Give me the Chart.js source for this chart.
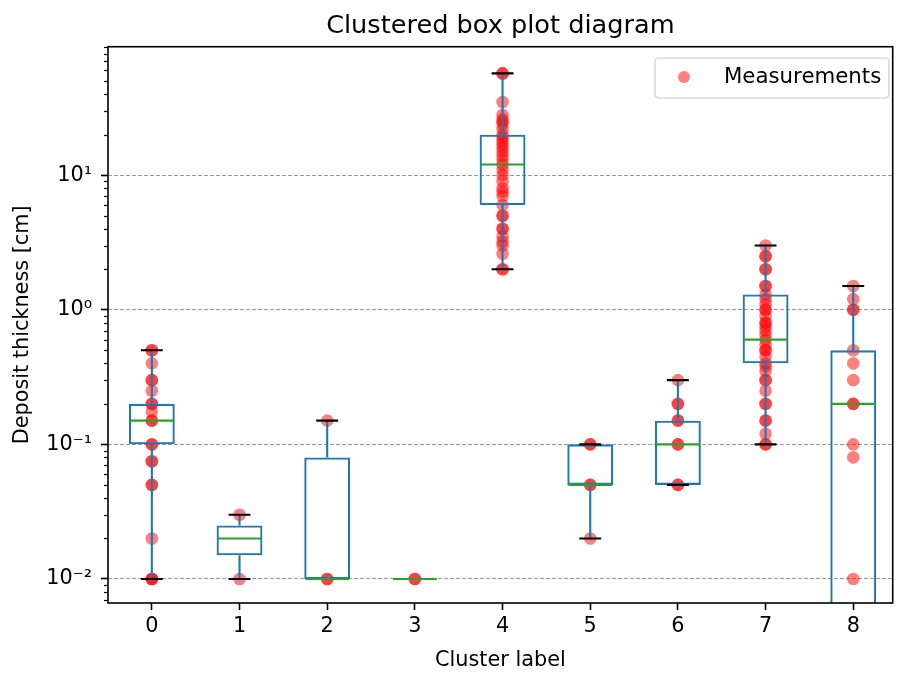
<!DOCTYPE html>
<html>
<head>
<meta charset="utf-8">
<script src="https://cdn.jsdelivr.net/npm/chart.js@4.4.0/dist/chart.umd.min.js"></script>
<style>
  html, body { margin: 0; padding: 0; background: #ffffff; }
</style>
</head>
<body>
<canvas id="box_chart" width="899" height="675"></canvas>
<script>
// cluster labels on the x axis
const clusters = ['0', '1', '2', '3', '4', '5', '6', '7', '8'];

// box statistics per cluster
const box_q1 = [0.1, 0.015, 0.01, 0.01, 6, 0.05, 0.05, 0.4, 0.001];
const box_median = [0.15, 0.02, 0.01, 0.01, 12, 0.05, 0.1, 0.6, 0.2];
const box_q3 = [0.2, 0.025, 0.08, 0.01, 20, 0.1, 0.15, 1.3, 0.5];
const whisker_low = [0.01, 0.01, 0.01, 0.01, 2, 0.02, 0.05, 0.1, 0.001];
const whisker_high = [0.5, 0.03, 0.15, 0.01, 57, 0.1, 0.3, 3, 1.5];

// measurements per cluster
const cluster0 = [0.5, 0.5, 0.4, 0.3, 0.3, 0.25, 0.2, 0.2, 0.175, 0.15, 0.15, 0.1, 0.1, 0.075, 0.075, 0.05, 0.05, 0.02, 0.01, 0.01, 0.01];
const cluster1 = [0.03, 0.01];
const cluster2 = [0.15, 0.01, 0.01];
const cluster3 = [0.01, 0.01];
const cluster4 = [57, 57, 35, 28, 26, 25, 24, 22, 20, 19, 18, 17, 16, 15, 14, 13, 12, 11, 10, 9, 8, 7.5, 7, 6, 5, 5, 4, 4, 3.5, 3.2, 3, 2.6, 2, 2];
const cluster5 = [0.1, 0.1, 0.05, 0.05, 0.02];
const cluster6 = [0.3, 0.2, 0.2, 0.15, 0.15, 0.1, 0.1, 0.05, 0.05];
const cluster7 = [3, 2.5, 2.5, 2, 2, 1.5, 1.5, 1.3, 1.2, 1.1, 1, 1, 0.9, 0.8, 0.8, 0.75, 0.7, 0.65, 0.6, 0.55, 0.5, 0.5, 0.45, 0.4, 0.38, 0.35, 0.3, 0.3, 0.25, 0.2, 0.2, 0.15, 0.15, 0.12, 0.1, 0.1];
const cluster8 = [1.5, 1.2, 1.0, 1.0, 0.5, 0.4, 0.3, 0.2, 0.2, 0.1, 0.08, 0.01];
const measurements = [cluster0, cluster1, cluster2, cluster3, cluster4, cluster5, cluster6, cluster7, cluster8];

// axis ticks
const y_tick_values = [0.01, 0.1, 1, 10];
const y_tick_labels = ['10\u207B\u00B2', '10\u207B\u00B9', '10\u2070', '10\u00B9'];

const blue = '#1f77b4';
const green = '#2ca02c';
const font_family = "'DejaVu Sans', sans-serif";

let scatter_points = [];
measurements.forEach((values, i) => {
    values.forEach(v => scatter_points.push({x: i, y: v}));
});

const box_lines = {
    id: 'box_lines',
    afterDatasetsDraw(chart) {
        const ctx = chart.ctx;
        const xs = chart.scales.x;
        const ys = chart.scales.y;
        const area = chart.chartArea;
        const cap_half = xs.getPixelForValue(0.125) - xs.getPixelForValue(0);
        const box_half = xs.getPixelForValue(0.25) - xs.getPixelForValue(0);

        const line = (x1, y1, x2, y2) => {
            ctx.beginPath();
            ctx.moveTo(x1, y1);
            ctx.lineTo(x2, y2);
            ctx.stroke();
        };

        ctx.save();
        ctx.beginPath();
        ctx.rect(area.left, area.top, area.right - area.left, area.bottom - area.top);
        ctx.clip();
        ctx.lineWidth = 2.1;

        clusters.forEach((c, i) => {
            const cx = xs.getPixelForValue(i);
            ctx.strokeStyle = blue;
            line(cx, ys.getPixelForValue(whisker_low[i]), cx, ys.getPixelForValue(box_q1[i]));
            line(cx, ys.getPixelForValue(box_q3[i]), cx, ys.getPixelForValue(whisker_high[i]));
            ctx.strokeStyle = '#000000';
            line(cx - cap_half, ys.getPixelForValue(whisker_low[i]), cx + cap_half, ys.getPixelForValue(whisker_low[i]));
            line(cx - cap_half, ys.getPixelForValue(whisker_high[i]), cx + cap_half, ys.getPixelForValue(whisker_high[i]));
            ctx.strokeStyle = green;
            line(cx - box_half, ys.getPixelForValue(box_median[i]), cx + box_half, ys.getPixelForValue(box_median[i]));
        });
        ctx.restore();
    },
    afterDraw(chart) {
        const ctx = chart.ctx;
        const ys = chart.scales.y;
        const area = chart.chartArea;

        // minor ticks on the log axis
        ctx.save();
        ctx.strokeStyle = '#000000';
        ctx.lineWidth = 1.2;
        for (let k = -3; k <= 1; k++) {
            for (let m = 2; m <= 9; m++) {
                const v = m * Math.pow(10, k);
                if (v < ys.min || v > ys.max) continue;
                const py = Math.round(ys.getPixelForValue(v)) + 0.5;
                ctx.beginPath();
                ctx.moveTo(area.left - 4, py);
                ctx.lineTo(area.left, py);
                ctx.stroke();
            }
        }

        // frame
        ctx.lineWidth = 1.6;
        ctx.strokeRect(area.left, area.top, area.right - area.left, area.bottom - area.top);

        // legend
        const lx = 655, ly = 58, lw = 234, lh = 40, r = 4;
        ctx.beginPath();
        ctx.moveTo(lx + r, ly);
        ctx.arcTo(lx + lw, ly, lx + lw, ly + lh, r);
        ctx.arcTo(lx + lw, ly + lh, lx, ly + lh, r);
        ctx.arcTo(lx, ly + lh, lx, ly, r);
        ctx.arcTo(lx, ly, lx + lw, ly, r);
        ctx.closePath();
        ctx.fillStyle = 'rgba(255,255,255,0.8)';
        ctx.fill();
        ctx.strokeStyle = '#cccccc';
        ctx.lineWidth = 1.2;
        ctx.stroke();

        ctx.beginPath();
        ctx.arc(684, 77, 6, 0, Math.PI * 2);
        ctx.fillStyle = 'rgba(255,0,0,0.5)';
        ctx.fill();

        ctx.fillStyle = '#000000';
        ctx.font = "21.3px " + font_family;
        ctx.textBaseline = 'middle';
        ctx.textAlign = 'left';
        ctx.fillText('Measurements', 724, 77);
        ctx.restore();
    }
};

new Chart(document.getElementById('box_chart'), {
    type: 'bar',
    data: {
        datasets: [{
            type: 'scatter',
            label: 'Measurements',
            data: scatter_points,
            pointRadius: 6.3,
            pointHoverRadius: 6.3,
            pointBorderWidth: 0,
            backgroundColor: 'rgba(255,0,0,0.5)',
            borderColor: 'rgba(255,0,0,0.5)',
            order: 2
        }, {
            type: 'bar',
            label: 'box',
            data: clusters.map((c, i) => ({x: i, y: [box_q1[i], box_q3[i]]})),
            backgroundColor: 'rgba(0,0,0,0)',
            borderColor: blue,
            borderWidth: 2.1,
            borderSkipped: false,
            barPercentage: 0.523,
            categoryPercentage: 1.0,
            clip: 0,
            order: 1
        }]
    },
    options: {
        responsive: false,
        animation: false,
        layout: { padding: { left: 0, right: 2, top: 0, bottom: 0 } },
        plugins: {
            legend: { display: false },
            tooltip: { enabled: false },
            title: {
                display: true,
                text: 'Clustered box plot diagram',
                fullSize: false,
                color: '#000000',
                font: { family: font_family, size: 25.6, weight: 'normal' },
                padding: { top: 11, bottom: 5 }
            }
        },
        scales: {
            x: {
                type: 'linear',
                min: -0.5,
                max: 8.45,
                offset: false,
                afterBuildTicks: scale => {
                    scale.ticks = clusters.map((c, i) => ({value: i}));
                },
                afterFit: scale => { scale.height = 72; },
                ticks: {
                    color: '#000000',
                    font: { family: font_family, size: 20.8 },
                    padding: 4,
                    maxRotation: 0,
                    callback: (v) => clusters[v]
                },
                grid: {
                    offset: false,
                    drawOnChartArea: false,
                    tickLength: 7,
                    tickWidth: 1.6,
                    tickColor: '#000000'
                },
                border: { display: false },
                title: {
                    display: true,
                    text: 'Cluster label',
                    color: '#000000',
                    font: { family: font_family, size: 20.8 },
                    padding: { top: 0, bottom: 2 }
                }
            },
            y: {
                type: 'logarithmic',
                min: 0.00663,
                max: 90,
                afterBuildTicks: scale => {
                    scale.ticks = y_tick_values.map(v => ({value: v}));
                },
                afterFit: scale => { scale.width = 108; },
                ticks: {
                    color: '#000000',
                    font: { family: font_family, size: 20.8 },
                    padding: 9,
                    callback: (v) => y_tick_labels[y_tick_values.indexOf(v)]
                },
                grid: {
                    color: 'rgba(128,128,128,0.8)',
                    lineWidth: 1,
                    tickLength: 7,
                    tickWidth: 1.6,
                    tickColor: '#000000',
                    tickBorderDash: []
                },
                border: { display: false, dash: [4, 2] },
                title: {
                    display: true,
                    text: 'Deposit thickness [cm]',
                    color: '#000000',
                    font: { family: font_family, size: 20.8 },
                    padding: { top: 10, bottom: 0 }
                }
            }
        }
    },
    plugins: [box_lines]
});
</script>
</body>
</html>
